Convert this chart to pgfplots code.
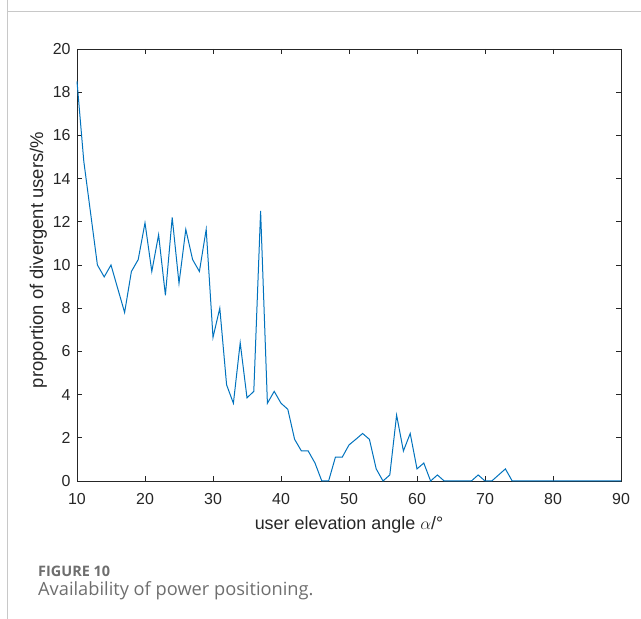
\documentclass[border=0pt]{standalone}
\usepackage{fontspec}
\setmainfont{Liberation Sans}
\newfontfamily\capfont{Open Sans}
\usepackage{pgfplots}
\pgfplotsset{compat=1.18}

\definecolor{matblue}{HTML}{0072BD}
\definecolor{axisgray}{HTML}{262626}
\definecolor{framegray}{HTML}{C8C8C8}
\definecolor{capgray}{HTML}{6E6E6E}

\pgfplotstableread{
x y
10 18.5
11 14.8
12 12.4
13 10.0
14 9.45
15 10.0
16 8.9
17 7.8
18 9.7
19 10.25
20 11.95
21 9.7
22 11.4
23 8.6
24 12.2
25 9.15
26 11.65
27 10.25
28 9.7
29 11.65
30 6.65
31 8.0
32 4.45
33 3.6
34 6.4
35 3.85
36 4.15
37 12.5
38 3.6
39 4.15
40 3.6
41 3.32
42 1.93
43 1.39
44 1.39
45 0.83
46 0
47 0
48 1.1
49 1.1
50 1.67
51 1.93
52 2.2
53 1.93
54 0.56
55 0
56 0.28
57 3.05
58 1.39
59 2.2
60 0.56
61 0.83
62 0
63 0.28
64 0
65 0
66 0
67 0
68 0
69 0.28
70 0
71 0
72 0.28
73 0.56
74 0
75 0
76 0
77 0
78 0
79 0
80 0
81 0
82 0
83 0
84 0
85 0
86 0
87 0
88 0
89 0
90 0
}\divergent

\begin{document}
\begin{tikzpicture}[x=1bp,y=1bp]
  \useasboundingbox (0,0) rectangle (641,619);
  % panel frame
  \draw[framegray, line width=1bp] (7,619) -- (7,607) -- (641,607);
  \draw[framegray, line width=1bp] (7,607) -- (7,0);

  \begin{axis}[
    at={(77bp,138bp)}, anchor=south west,
    scale only axis,
    width=544bp, height=432bp,
    xmin=10, xmax=90, ymin=0, ymax=20,
    xtick={10,20,...,90},
    ytick={0,2,...,20},
    tick align=inside,
    major tick length=5bp,
    axis line style={axisgray, line width=0.9bp},
    every tick/.style={axisgray, line width=0.9bp},
    /pgf/number format/assume math mode=true,
    tick label style={font=\fontsize{16}{16}\selectfont, text=axisgray},
    xticklabel style={yshift=-8.5bp},
    yticklabel style={xshift=-3bp},
    clip=false,
  ]
    \addplot[matblue, line width=1bp] table[x=x, y=y] {\divergent};
  \end{axis}

  % axis titles
  \node[anchor=base, font=\fontsize{18}{18}\selectfont, text=axisgray]
    at (349,89) {user elevation angle $\alpha$/°};
  \node[anchor=base, rotate=90, font=\fontsize{18.5}{18.5}\selectfont, text=axisgray]
    at (43,359) {proportion of divergent users/\%};

  % caption
  \node[anchor=base west, inner sep=0, font=\capfont\bfseries\fontsize{14.5}{14.5}\selectfont, text=capgray]
    at (38,42) {FIGURE 10};
  \node[anchor=base west, inner sep=0, font=\capfont\fontsize{18.3}{18.3}\selectfont, text=capgray]
    at (38,23) {Availability of power positioning.};
\end{tikzpicture}
\end{document}
